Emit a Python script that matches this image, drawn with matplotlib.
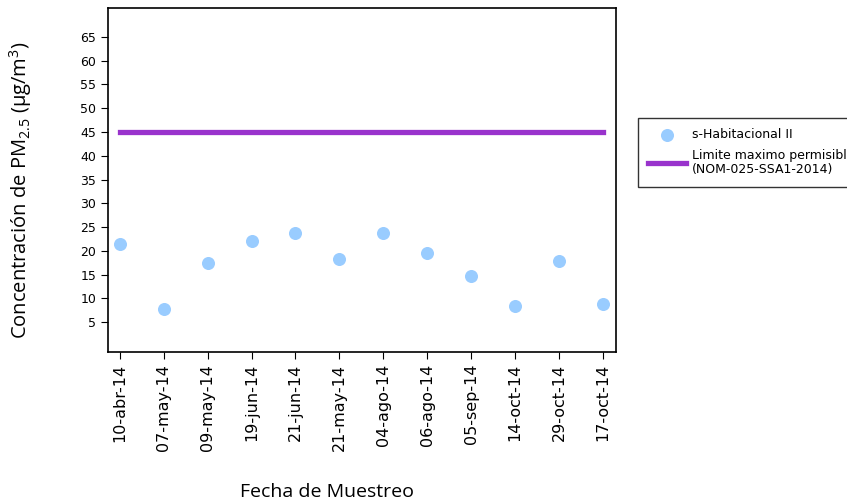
import matplotlib.pyplot as plt
import numpy as np

plt.rcParams['mathtext.fontset'] = 'custom'
plt.rcParams['mathtext.rm'] = 'Open Sans'
plt.rcParams['mathtext.it'] = 'Open Sans'
plt.rcParams['mathtext.bf'] = 'Open Sans'

fechas = ['10-abr-14', '07-may-14', '09-may-14', '19-jun-14', '21-jun-14', '21-may-14',
          '04-ago-14', '06-ago-14', '05-sep-14', '14-oct-14', '29-oct-14', '17-oct-14']
pm25 = [21.4, 7.7, 17.4, 22.1, 23.7, 18.3, 23.7, 19.5, 14.7, 8.4, 17.8, 8.8]
limite = [45] * len(fechas)
y_ticks = [5, 10, 15, 20, 25, 30, 35, 40, 45, 50, 55, 60, 65]

fig = plt.figure(figsize=(8.47, 5.04), dpi=100)
ax = fig.add_axes([108 / 847, 1 - 352 / 504, 508 / 847, 344 / 504])

x = np.arange(len(fechas))
ax.scatter(x, pm25, s=70, color='#99ccff', zorder=3, label='s-Habitacional II')
ax.plot(x, limite, color='#9933cc', linewidth=3.8,
        label='Limite maximo permisible\n(NOM-025-SSA1-2014)')

ax.set_xlim(-0.27, 11.3)
ax.set_ylim(-1.3, 71.1)
ax.set_xticks(x)
ax.set_xticklabels(fechas, rotation=90, fontsize=11.5)
ax.set_yticks(y_ticks)
ax.tick_params(axis='y', labelsize=9, length=5)
ax.tick_params(axis='x', length=5)
for s in ax.spines.values():
    s.set_linewidth(1.2)

ax.set_ylabel('Concentración de PM$_{2.5}$ (µg/m$^3$)', fontsize=14.5, family='Open Sans')
ax.yaxis.set_label_coords((34 - 108) / 508, (352 - 190) / 344)
fig.text(327 / 847, 1 - 492 / 504, 'Fecha de Muestreo', fontsize=14, family='Open Sans',
         ha='center', va='center')

leg = fig.legend(loc='upper left', bbox_to_anchor=(638 / 847, 1 - 118 / 504),
                 fontsize=9, frameon=True, fancybox=False, edgecolor='black',
                 handlelength=3.0, handletextpad=0.5, borderpad=0.8,
                 borderaxespad=0, labelspacing=0.6)
leg.get_frame().set_linewidth(1.0)

fig.savefig('out.png', dpi=100)
